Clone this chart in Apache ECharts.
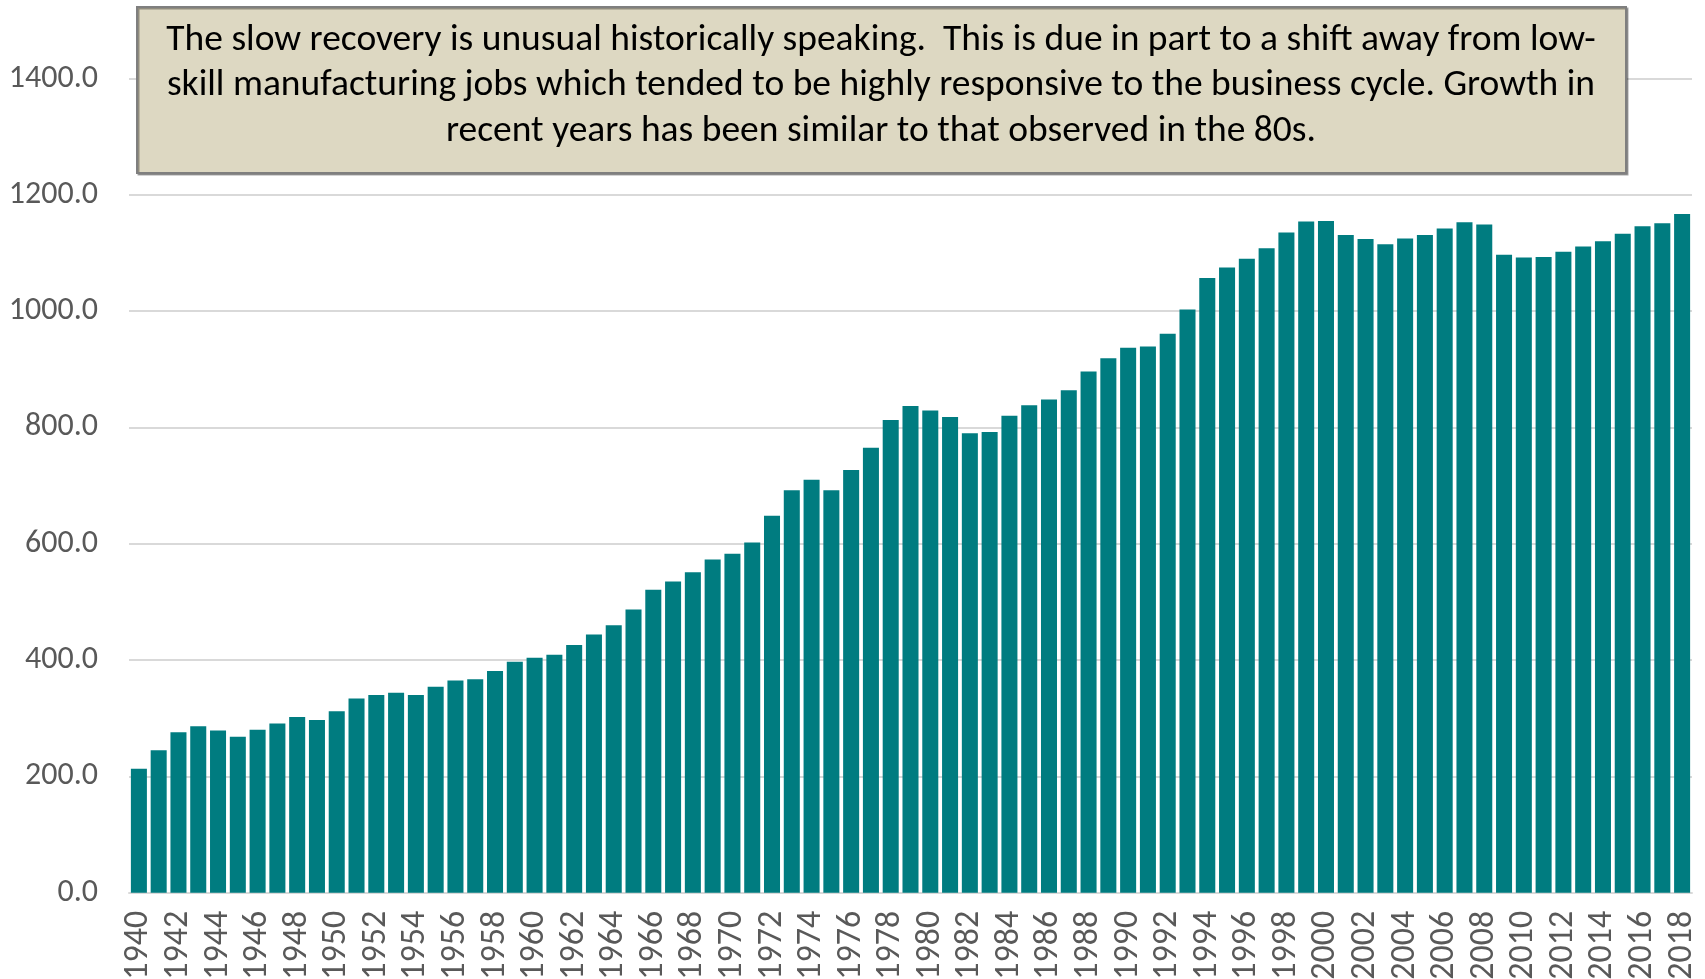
<!DOCTYPE html>
<html>
<head>
<meta charset="utf-8">
<title>Employment chart</title>
<script src="https://cdn.jsdelivr.net/npm/echarts@6/dist/echarts.min.js"></script>
<style>
    html, body { margin: 0; padding: 0; background: #fff; }
    #myChart { width: 1705px; height: 979px; }
</style>
</head>
<body>
<div id="myChart"></div>
<script>
// 年份
let years = [];
for (let y = 1940; y <= 2018; y++) {
    years.push(String(y));
}
let values = [
    213, 245, 276, 286, 279, 268, 280, 291, 302, 297,
    312, 334, 340, 344, 340, 354, 365, 367, 381, 397,
    404, 409, 426, 444, 460, 487, 521, 535, 551, 573,
    583, 602, 648, 692, 710, 692, 727, 765, 813, 837,
    829, 818, 790, 792, 820, 838, 848, 864, 896, 919,
    937, 939, 961, 1003, 1057, 1075, 1090, 1108, 1135, 1154,
    1155, 1131, 1124, 1115, 1125, 1131, 1142, 1153, 1149, 1097,
    1092, 1093, 1102, 1111, 1120, 1133, 1146, 1151, 1167
];
let yTicks = [0, 200, 400, 600, 800, 1000, 1200, 1400];
let noteLines = [
    'The slow recovery is unusual historically speaking.  This is due in part to a shift away from low-',
    'skill manufacturing jobs which tended to be highly responsive to the business cycle. Growth in',
    'recent years has been similar to that observed in the 80s.'
];

let font = 'Carlito, Calibri, Lato, sans-serif';
let myChart = echarts.init(document.getElementById('myChart'));
myChart.setOption({
    animation: false,
    grid: {
        top: 78.5,
        right: 13,
        bottom: 86.3,
        left: 129,
        containLabel: false,
        outerBoundsMode: 'none'
    },
    xAxis: {
        type: 'category',
        data: years,
        axisLine: {
            lineStyle: {
                color: '#d9d9d9',
                width: 2
            }
        },
        axisTick: {
            show: false
        },
        axisLabel: {
            interval: 1,
            rotate: 90,
            margin: 18,
            color: '#595959',
            fontSize: 34,
            fontFamily: font
        }
    },
    yAxis: {
        type: 'value',
        min: yTicks[0],
        max: yTicks[yTicks.length - 1],
        interval: 200,
        axisLine: {
            show: false
        },
        axisTick: {
            show: false
        },
        splitLine: {
            lineStyle: {
                color: '#d9d9d9',
                width: 2
            }
        },
        axisLabel: {
            margin: 31,
            color: '#595959',
            fontSize: 32,
            fontFamily: font,
            formatter: function (v) {
                return v.toFixed(1);
            }
        }
    },
    series: [{
        type: 'bar',
        data: values,
        barCategoryGap: '19%',
        itemStyle: {
            color: '#007c80'
        }
    }],
    graphic: [{
        type: 'rect',
        left: 136,
        top: 6,
        z: 100,
        shape: {
            width: 1489,
            height: 166
        },
        style: {
            fill: '#ddd8c2',
            stroke: '#7f7f7f',
            lineWidth: 2,
            shadowColor: 'rgba(0,0,0,0.35)',
            shadowOffsetX: 1.5,
            shadowOffsetY: 1.5
        }
    }, {
        type: 'text',
        x: 881,
        y: 86,
        z: 101,
        style: {
            text: noteLines.join('\n'),
            align: 'center',
            verticalAlign: 'middle',
            fill: '#000',
            fontSize: 37.5,
            lineHeight: 45.7,
            fontFamily: font
        }
    }]
});
</script>
</body>
</html>
